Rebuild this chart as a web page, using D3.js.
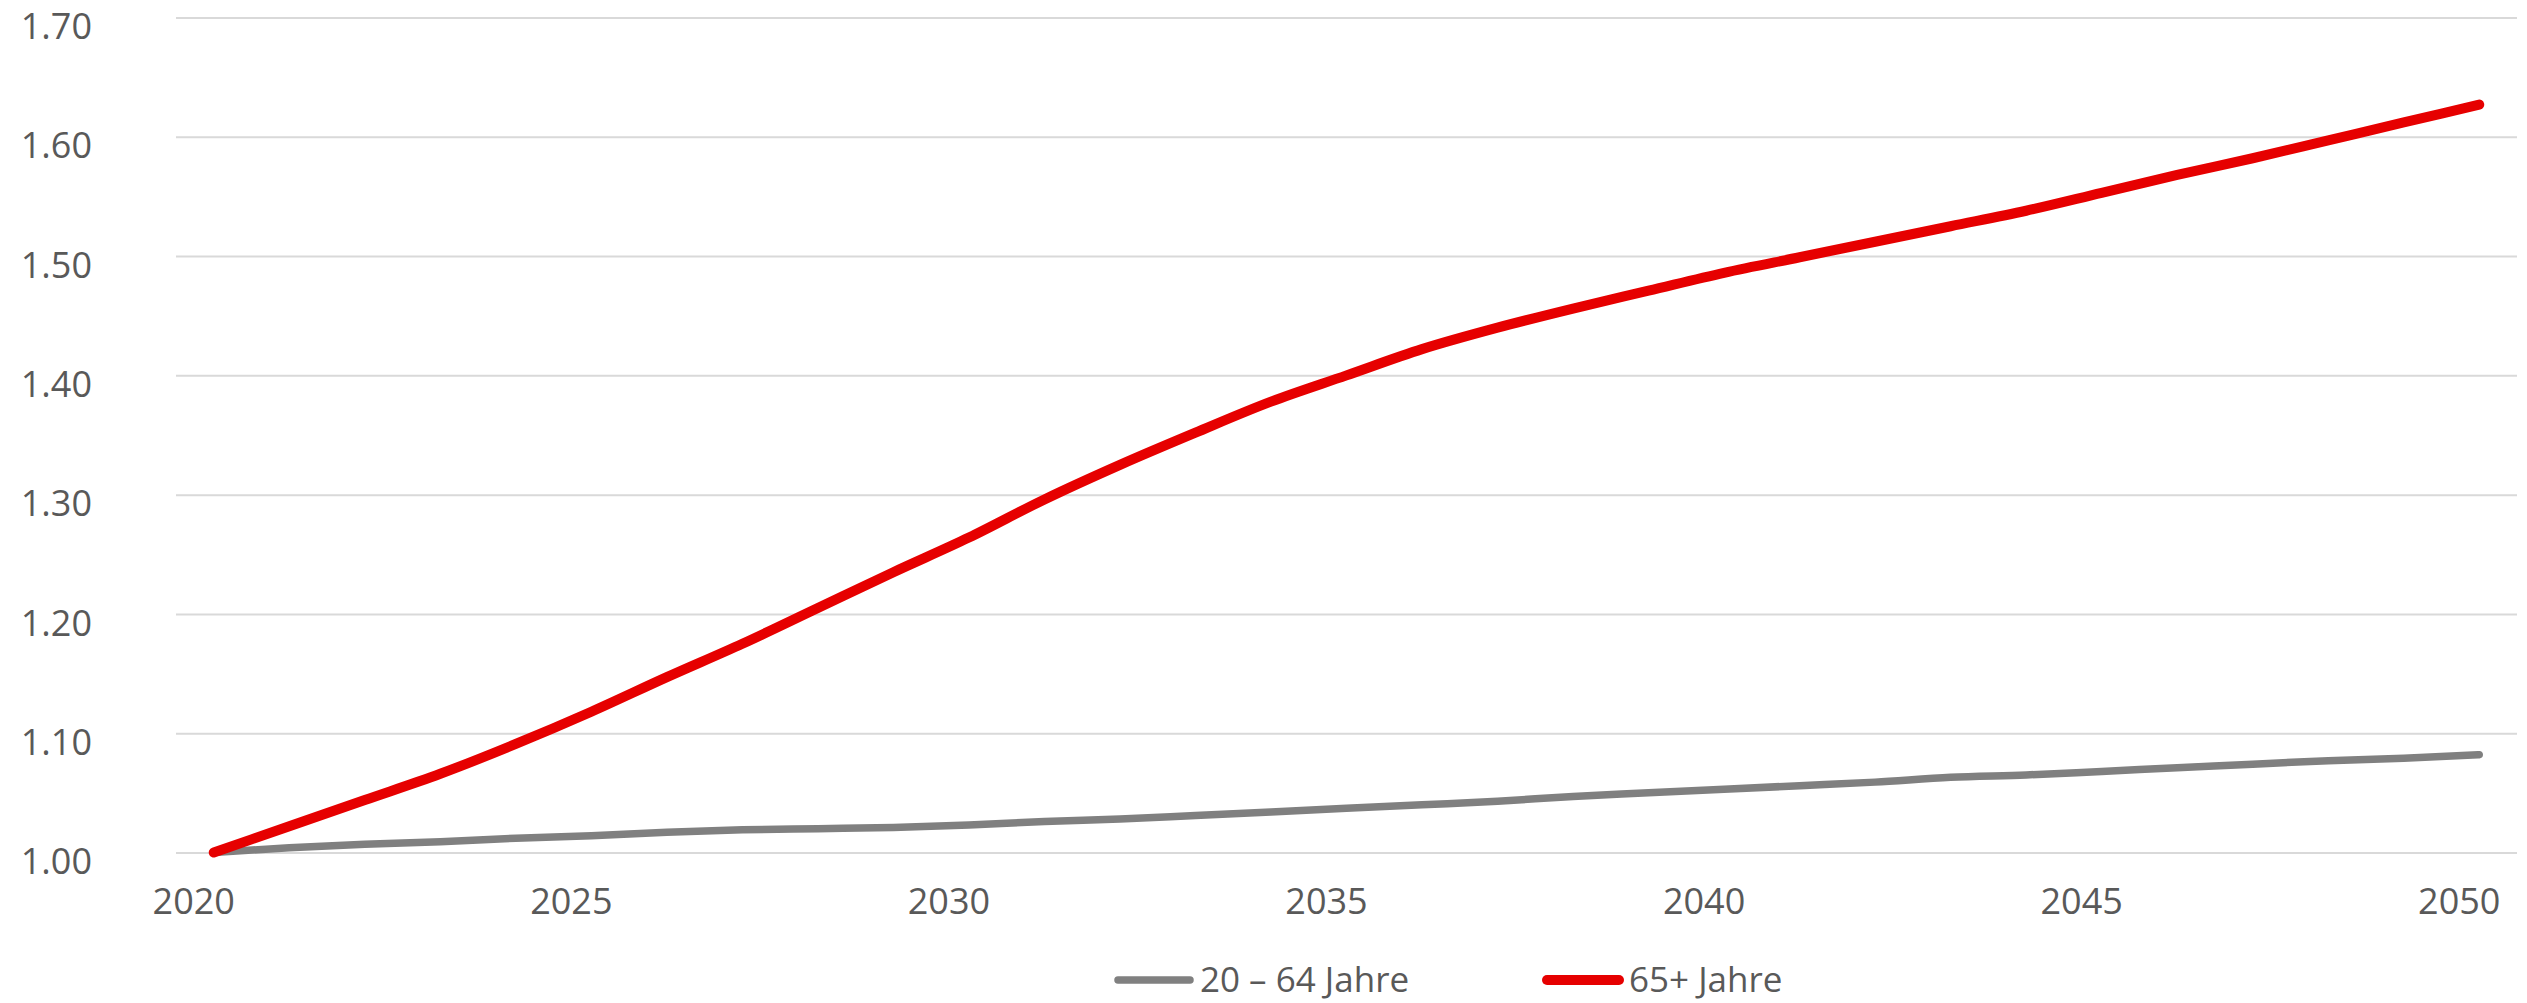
<!DOCTYPE html>
<html>
<head>
<meta charset="utf-8">
<script src="https://cdn.jsdelivr.net/npm/d3@7"></script>
<style>
    body { margin: 0; background: #fff; }
    svg { display: block; }
    svg text { font-family: "Open Sans", sans-serif; }
</style>
</head>
<body>
<svg id="chart" width="2527" height="1003"></svg>
<script>
let years = [2020, 2021, 2022, 2023, 2024, 2025, 2026, 2027, 2028, 2029,
    2030, 2031, 2032, 2033, 2034, 2035, 2036, 2037, 2038, 2039,
    2040, 2041, 2042, 2043, 2044, 2045, 2046, 2047, 2048, 2049, 2050];

let workingAge = [1.000, 1.004, 1.007, 1.009, 1.012, 1.014, 1.017, 1.019, 1.020, 1.021,
    1.023, 1.026, 1.028, 1.031, 1.034, 1.037, 1.040, 1.043, 1.047, 1.050,
    1.053, 1.056, 1.059, 1.063, 1.065, 1.068, 1.071, 1.074, 1.077, 1.079, 1.082];

let elderly = [1.000, 1.022, 1.044, 1.066, 1.091, 1.118, 1.147, 1.175, 1.205, 1.235,
    1.264, 1.296, 1.325, 1.352, 1.378, 1.400, 1.422, 1.440, 1.456, 1.471,
    1.486, 1.499, 1.512, 1.525, 1.538, 1.553, 1.568, 1.582, 1.597, 1.612, 1.627];

let yTicks = [1.00, 1.10, 1.20, 1.30, 1.40, 1.50, 1.60, 1.70];
let xTicks = [2020, 2025, 2030, 2035, 2040, 2045, 2050];

let seriesNames = ["20 \u2013 64 Jahre", "65+ Jahre"];
let seriesColors = ["#808080", "#e60000"];
let seriesWidths = [7.5, 10];

let svg = d3.select("#chart");
let textColor = "#595959";

let pl = 176, pr = 2517, pt = 17.5, pb = 852.5;

let x = d3.scaleBand().domain(years).range([pl, pr]).padding(0);
let y = d3.scaleLinear().domain([1.0, 1.7]).range([pb, pt]);

// y axis with gridlines
let yAxis = svg.append("g")
    .attr("class", "axis y")
    .attr("transform", "translate(" + pl + ",0)")
    .call(d3.axisLeft(y).tickValues(yTicks).tickFormat(d3.format(".2f"))
        .tickSizeInner(-(pr - pl)).tickSizeOuter(0).tickPadding(84));
yAxis.attr("font-family", null).attr("font-size", null);
yAxis.select(".domain").remove();
yAxis.selectAll(".tick line").attr("stroke", "#d9d9d9").attr("stroke-width", 2);
yAxis.selectAll(".tick text")
    .attr("fill", textColor)
    .style("font-size", "36px")
    .attr("y", 8.5)
    .attr("dy", "0.35em");

// x axis labels
let xAxis = svg.append("g")
    .attr("class", "axis x")
    .attr("transform", "translate(0," + pb + ")")
    .call(d3.axisBottom(x).tickValues(xTicks).tickSize(0).tickPadding(35.5));
xAxis.attr("font-family", null).attr("font-size", null);
xAxis.select(".domain").remove();
xAxis.selectAll(".tick text")
    .attr("fill", textColor)
    .style("font-size", "36px")
    .attr("dx", -20);

// lines
let line = d3.line()
    .x((d, i) => x(years[i]) + x.bandwidth() / 2)
    .y((d) => y(d))
    .curve(d3.curveMonotoneX);

let series = [workingAge, elderly];
svg.append("g").attr("class", "lines")
    .selectAll("path")
    .data(series)
    .enter()
    .append("path")
    .attr("d", line)
    .style("fill", "none")
    .style("stroke", (d, i) => seriesColors[i])
    .style("stroke-width", (d, i) => seriesWidths[i])
    .style("stroke-linecap", "round")
    .style("stroke-linejoin", "round");

// legend
let legendX = [1118, 1547];
let legendY = 980;
let legend = svg.append("g").attr("class", "legend")
    .selectAll("g")
    .data(seriesNames)
    .enter()
    .append("g")
    .attr("transform", (d, i) => "translate(" + legendX[i] + "," + legendY + ")");
legend.append("line")
    .attr("x1", 0).attr("x2", 72)
    .attr("y1", 0).attr("y2", 0)
    .style("stroke", (d, i) => seriesColors[i])
    .style("stroke-width", (d, i) => seriesWidths[i])
    .style("stroke-linecap", "round");
legend.append("text")
    .attr("x", 82)
    .attr("dy", "0.35em")
    .attr("fill", textColor)
    .style("font-size", "35px")
    .text((d) => d);
</script>
</body>
</html>
